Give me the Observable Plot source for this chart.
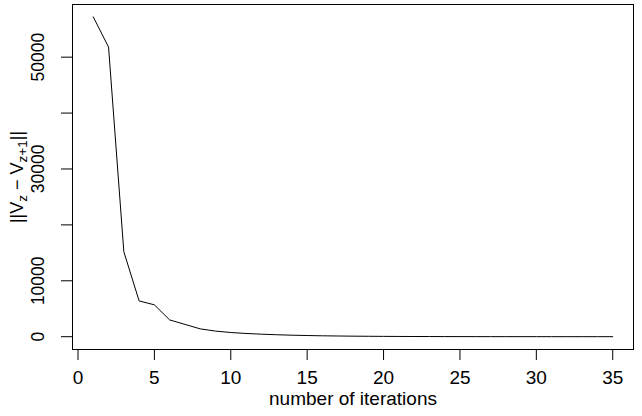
<!DOCTYPE html>
<html><head><meta charset="utf-8">
<script src="https://cdn.jsdelivr.net/npm/d3@7"></script>
<script src="https://cdn.jsdelivr.net/npm/@observablehq/plot@0.6"></script>
<style>
body{margin:0;background:#fff}
svg{font-family:"Liberation Sans",Arial,sans-serif}
</style>
</head><body><div id="chart"></div>
<script>
const iterations = [1,2,3,4,5,6,7,8,9,10,11,12,13,14,15,16,17,18,19,20,21,22,23,24,25,26,27,28,29,30,31,32,33,34,35];
const diffs = [57200,51800,15200,6400,5700,3000,2200,1400,1000,750,580,450,350,270,210,160,125,95,75,58,45,35,27,21,16,12,10,8,6,5,4,3,2,2,1];
const xTicks = [0,5,10,15,20,25,30,35];
const yTicks = [0,10000,20000,30000,40000,50000];
const yTickLabels = ["0","10000","","30000","","50000"];
const xTitle = "number of iterations";

const data = iterations.map((x, i) => ({x, y: diffs[i]}));

const chart = Plot.plot({
  width: 642, height: 416,
  marginLeft: 72, marginRight: 9, marginTop: 4, marginBottom: 67,
  style: {fontSize: "19px", fontFamily: "'Liberation Sans', Arial, sans-serif", background: "white", color: "black"},
  x: {domain: [-0.36, 36.36]},
  y: {domain: [-2290, 59420]},
  marks: [
    Plot.frame({stroke: "black"}),
    Plot.axisX({ticks: xTicks, tickSize: 11, tickFormat: () => "", label: null, stroke: "black"}),
    Plot.text(xTicks, {x: d => d, text: d => String(d), frameAnchor: "bottom", dy: 34, fill: "black", fontSize: 19}),
    Plot.axisY({ticks: yTicks, tickSize: 11, tickFormat: () => "", label: null, stroke: "black"}),
    Plot.text(yTicks, {y: d => d, text: (d, i) => yTickLabels[i], frameAnchor: "left", textAnchor: "middle", dx: -34.5, rotate: -90, fill: "black", fontSize: 17.5}),
    Plot.line(data, {x: "x", y: "y", stroke: "black", strokeWidth: 1}),
    Plot.text([xTitle], {text: d => d, frameAnchor: "bottom", dy: 55, fill: "black", fontSize: 19})
  ]
});

// y-axis title with subscripts
const svg = d3.select(chart.tagName === "svg" ? chart : chart.querySelector("svg"));
const t = svg.append("text")
  .attr("transform", "translate(23,177) rotate(-90)")
  .attr("text-anchor", "middle")
  .attr("fill", "black")
  .attr("font-size", 18);
t.append("tspan").text("||V");
t.append("tspan").attr("font-size", 13.5).attr("dy", 4).text("z");
t.append("tspan").attr("dy", -4).text(" \u2212 V");
t.append("tspan").attr("font-size", 13.5).attr("dy", 4).text("z+1");
t.append("tspan").attr("dy", -4).text("||");

document.getElementById("chart").appendChild(chart);
</script>
</body></html>
